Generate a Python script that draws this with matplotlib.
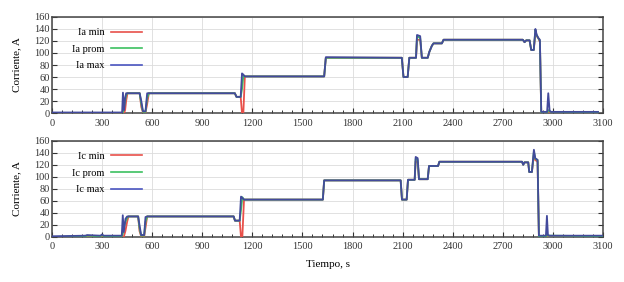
import matplotlib
matplotlib.use("Agg")
import matplotlib.pyplot as plt
from matplotlib.ticker import MultipleLocator, FixedLocator

plt.rcParams['font.family'] = ['Liberation Serif', 'DejaVu Serif']

# ---- data: top panel (Ia) ----
t_a = [0, 420, 425, 432, 438, 444, 452, 460, 525, 535, 545, 560, 570, 580,
       1095, 1105, 1130, 1138, 1146, 1155, 1630, 1640, 2095, 2105, 2130, 2140,
       2180, 2186, 2205, 2215, 2250, 2260, 2275, 2285, 2335, 2345, 2820, 2830,
       2840, 2860, 2870, 2885, 2895, 2902, 2912, 2922, 2930, 2965, 2972, 2980,
       2988, 3000, 3270]
ia_min = [0, 0, 0, 0, 5, 20, 33, 33, 33, 10, 1, 1, 15, 33,
          33, 27, 27, 0, 0, 61, 61, 92, 92, 60, 60, 92,
          92, 122, 122, 92, 92, 102, 112, 116, 116, 122, 122, 118,
          121, 121, 105, 105, 132, 128, 125, 118, 0, 0, 1, 1,
          1, 1, 1]
ia_prom = [0, 0, 2, 10, 20, 30, 33, 33, 33, 15, 2, 2, 25, 33,
           33, 27, 27, 40, 62, 61, 61, 92, 92, 60, 60, 92,
           92, 128, 125, 92, 92, 102, 112, 116, 116, 122, 122, 118,
           121, 121, 105, 105, 138, 130, 125, 120, 0, 0, 5, 3,
           2, 2, 1]
ia_max = [1, 1, 34, 5, 25, 33, 33, 33, 33, 20, 3, 3, 33, 33,
          33, 27, 27, 66, 64, 61, 61, 93, 92, 60, 60, 92,
          92, 130, 128, 92, 92, 102, 112, 116, 116, 122, 122, 118,
          121, 121, 105, 105, 140, 131, 125, 122, 2, 2, 33, 4,
          2, 2, 2]

# ---- data: bottom panel (Ic) ----
t_c = [0, 200, 210, 290, 300, 310, 418, 424, 430, 440, 450, 458, 516, 524,
       534, 552, 560, 570, 1088, 1096, 1124, 1132, 1140, 1150, 1622, 1630,
       2088, 2096, 2124, 2132, 2172, 2178, 2190, 2198, 2250, 2258, 2312, 2320,
       2815, 2822, 2830, 2852, 2858, 2874, 2886, 2894, 2908, 2916, 2958, 2964,
       2970, 2980, 3298]
ic_min = [0, 0, 1, 0, 1, 0, 0, 0, 0, 10, 25, 34, 34, 10,
          1, 1, 15, 34, 34, 27, 27, 0, 0, 62, 62, 94,
          94, 62, 62, 95, 95, 126, 124, 96, 96, 118, 118, 125,
          125, 120, 124, 124, 108, 108, 136, 128, 125, 0, 0, 1,
          1, 1, 1]
ic_prom = [0, 1, 2, 1, 3, 1, 1, 5, 15, 25, 32, 34, 34, 15,
           2, 2, 25, 34, 34, 27, 27, 45, 66, 62, 62, 94,
           94, 62, 62, 95, 95, 130, 128, 96, 96, 118, 118, 125,
           125, 120, 124, 124, 108, 108, 142, 130, 128, 0, 0, 5,
           2, 2, 1]
ic_max = [1, 2, 3, 2, 4, 2, 2, 36, 8, 30, 34, 34, 34, 20,
          3, 3, 33, 34, 34, 27, 27, 67, 65, 62, 62, 94,
          94, 62, 62, 95, 95, 133, 131, 96, 96, 118, 118, 125,
          125, 120, 124, 124, 108, 108, 145, 131, 128, 2, 2, 35,
          3, 2, 2]

x_ticks = [0, 300, 600, 900, 1200, 1500, 1800, 2100, 2400, 2700, 3000, 3300]
x_labels = ["0", "300", "600", "900", "1200", "1500", "1800", "2100",
            "2400", "2700", "3000", "3100"]
y_ticks = [0, 20, 40, 60, 80, 100, 120, 140, 160]

RED = '#e8504a'
GREEN = '#3cc060'
BLUE = '#4a55c0'
LINE_BLUE = '#434a9c'

fig = plt.figure(figsize=(6.24, 2.82), dpi=100)
ax1 = fig.add_axes([0.0833, 0.599, 0.8831, 0.341])
ax2 = fig.add_axes([0.0833, 0.160, 0.8831, 0.341])

panels = [
    (ax1, t_a, ia_min, ia_prom, ia_max, ["Ia min", "Ia prom", "Ia max"]),
    (ax2, t_c, ic_min, ic_prom, ic_max, ["Ic min", "Ic prom", "Ic max"]),
]

for ax, t, vmin, vprom, vmax, labels in panels:
    ax.plot(t, vmin, color=RED, lw=1.3, zorder=3)
    ax.plot(t, vprom, color=GREEN, lw=1.3, zorder=4)
    ax.plot(t, vmax, color=LINE_BLUE, lw=1.3, zorder=5)
    # legend proxies
    ax.plot([], [], color=RED, lw=1.2, label=labels[0])
    ax.plot([], [], color=GREEN, lw=1.2, label=labels[1])
    ax.plot([], [], color=BLUE, lw=1.2, label=labels[2])
    ax.set_xlim(0, 3300)
    ax.set_ylim(0, 160)
    ax.xaxis.set_major_locator(FixedLocator(x_ticks))
    ax.set_xticklabels(x_labels)
    ax.xaxis.set_minor_locator(MultipleLocator(60))
    ax.yaxis.set_major_locator(FixedLocator(y_ticks))
    ax.tick_params(which='both', direction='in', labelsize=7.5, colors='#333333',
                   right=True, top=False)
    ax.tick_params(which='major', length=3.5, width=0.8)
    ax.tick_params(which='minor', length=2, width=0.7)
    ax.tick_params(axis='x', pad=4)
    ax.tick_params(axis='y', pad=1.5)
    ax.grid(True, which='major', color='#dcdcdc', lw=0.6)
    ax.set_axisbelow(True)
    for s in ax.spines.values():
        s.set_color('#444444')
        s.set_linewidth(1.1)
    ax.set_ylabel("Corriente, A", fontsize=8, labelpad=4)
    leg = ax.legend(loc='upper left', markerfirst=False, frameon=False,
                    fontsize=7.5, handlelength=3.0, handletextpad=0.6,
                    labelspacing=0.7, bbox_to_anchor=(0.025, 0.95),
                    borderaxespad=0.2)

ax2.set_xlabel("Tiempo, s", fontsize=8, labelpad=6)
ax1.yaxis.set_label_coords(-0.055, 0.5)
ax2.yaxis.set_label_coords(-0.055, 0.5)

fig.savefig("out.png", dpi=100)
